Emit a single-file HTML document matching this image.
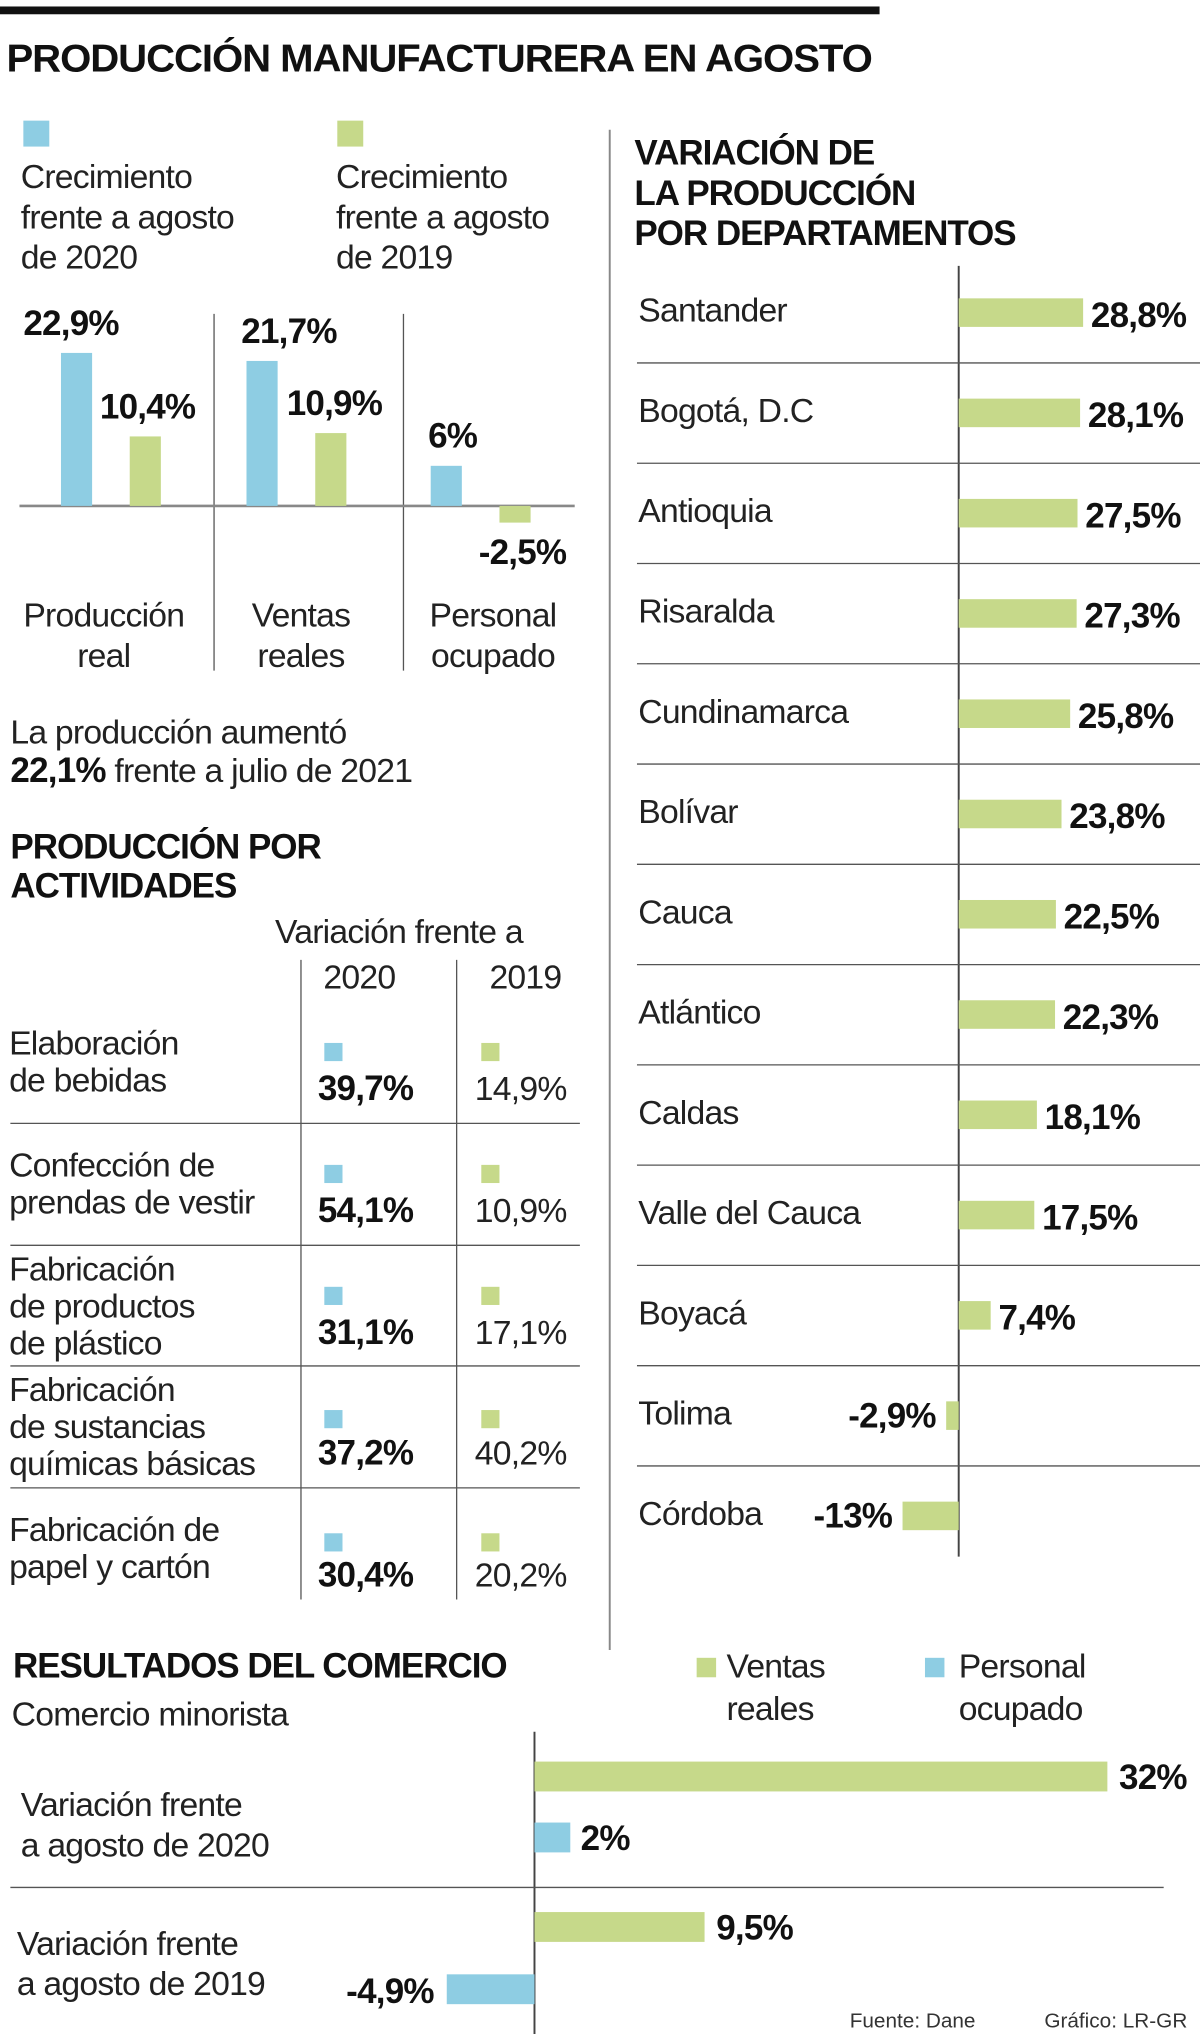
<!DOCTYPE html>
<html><head><meta charset="utf-8"><style>
html,body{margin:0;padding:0;background:#fff;}
svg{display:block;font-family:"Liberation Sans",sans-serif;}
.t{font-size:26px;fill:#222;letter-spacing:-0.6px;}
.b{font-size:27px;font-weight:bold;fill:#111;letter-spacing:-0.6px;}
.h{font-size:27px;font-weight:bold;fill:#111;letter-spacing:-0.8px;}
</style></head><body>
<svg id="s" width="1200" height="2034" viewBox="0 0 925 1568" preserveAspectRatio="none">
<rect x="0" y="5" width="678" height="6" fill="#111"/>
<text x="5" y="55" class="h" style="font-size:30px" textLength="667" lengthAdjust="spacingAndGlyphs">PRODUCCIÓN MANUFACTURERA EN AGOSTO</text>
<rect x="18" y="93" width="20" height="20" fill="#8ecde3"/>
<rect x="260" y="93" width="20" height="20" fill="#c6d98a"/>
<g><text x="16" y="145" class="t">Crecimiento</text><text x="16" y="176" class="t">frente a agosto</text><text x="16" y="207" class="t">de 2020</text></g>
<g><text x="259" y="145" class="t">Crecimiento</text><text x="259" y="176" class="t">frente a agosto</text><text x="259" y="207" class="t">de 2019</text></g>
<g id="c1"></g>
<text x="8" y="573" class="t">La producción aumentó</text>
<text x="8" y="603" class="t"><tspan class="b">22,1%</tspan> frente a julio de 2021</text>
<text x="8" y="662" class="h">PRODUCCIÓN POR</text>
<text x="8" y="692" class="h">ACTIVIDADES</text>
<text x="212" y="727" class="t">Variación frente a</text>
<text x="277" y="762" class="t" text-anchor="middle">2020</text>
<text x="405" y="762" class="t" text-anchor="middle">2019</text>
<g id="tbl"></g>
<line x1="470" y1="100" x2="470" y2="1272" stroke="#888" stroke-width="1.5"/>
<text x="489" y="127" class="h">VARIACIÓN DE</text>
<text x="489" y="158" class="h">LA PRODUCCIÓN</text>
<text x="489" y="189" class="h">POR DEPARTAMENTOS</text>
<g id="c2"></g>
<text x="10" y="1293" class="h">RESULTADOS DEL COMERCIO</text>
<text x="9" y="1330" class="t">Comercio minorista</text>
<rect x="537" y="1278" width="15" height="15" fill="#c6d98a"/>
<text x="560" y="1293" class="t">Ventas</text><text x="560" y="1326" class="t">reales</text>
<rect x="713" y="1278" width="15" height="15" fill="#8ecde3"/>
<text x="739" y="1293" class="t">Personal</text><text x="739" y="1326" class="t">ocupado</text>
<g id="c3"></g>
<text x="655" y="1563" style="font-size:16px;fill:#333">Fuente: Dane</text>
<text x="805" y="1563" style="font-size:16px;fill:#333">Gráfico: LR-GR</text>
</svg>
<script>
const groups=["Producción|real","Ventas|reales","Personal|ocupado"];
const vs2020=[22.9,21.7,6];
const vs2019=[10.4,10.9,-2.5];
const labels2020=["22,9%","21,7%","6%"];
const labels2019=["10,4%","10,9%","-2,5%"];

const activities=["Elaboración|de bebidas","Confección de|prendas de vestir","Fabricación|de productos|de plástico","Fabricación|de sustancias|químicas básicas","Fabricación de|papel y cartón"];
const act2020=["39,7%","54,1%","31,1%","37,2%","30,4%"];
const act2019=["14,9%","10,9%","17,1%","40,2%","20,2%"];

const depts=["Santander","Bogotá, D.C","Antioquia","Risaralda","Cundinamarca","Bolívar","Cauca","Atlántico","Caldas","Valle del Cauca","Boyacá","Tolima","Córdoba"];
const deptVals=[28.8,28.1,27.5,27.3,25.8,23.8,22.5,22.3,18.1,17.5,7.4,-2.9,-13];
const deptLabels=["28,8%","28,1%","27,5%","27,3%","25,8%","23,8%","22,5%","22,3%","18,1%","17,5%","7,4%","-2,9%","-13%"];

const comRows=["Variación frente|a agosto de 2020","Variación frente|a agosto de 2019"];
const comVentas=[32,9.5];
const comPersonal=[2,-4.9];
const comVentasLbl=["32%","9,5%"];
const comPersonalLbl=["2%","-4,9%"];

const NS="http://www.w3.org/2000/svg";
const BLUE="#8ecde3",GREEN="#c6d98a";
function mk(p,tag,a){const e=document.createElementNS(NS,tag);for(const k in a)e.setAttribute(k,a[k]);p.appendChild(e);return e;}
function txt(p,x,y,s,cls,anchor){const e=mk(p,"text",{x:x,y:y,class:cls});if(anchor)e.setAttribute("text-anchor",anchor);e.textContent=s;return e;}

// chart 1
const c1=document.getElementById("c1");
const y1=v=>390-v*5.15;
[165,311].forEach(x=>{const l=mk(c1,"line",{x1:x,y1:242,x2:x,y2:517,stroke:"#555","stroke-width":1});

});
const ax=mk(c1,"line",{x1:15,y1:390,x2:443,y2:390,stroke:"#888","stroke-width":2});


const gx=[47,190,332];
const lblOff=[-29,-4,-2];
const lbl2Off=[-23,-22,-16];
groups.forEach((g,i)=>{
  const bx=gx[i],gxx=gx[i]+53;
  const b=mk(c1,"rect",{x:bx,y:Math.min(y1(vs2020[i]),390),width:24,height:Math.abs(vs2020[i]*5.15),fill:BLUE});
  
  
  const r=mk(c1,"rect",{x:gxx,y:Math.min(y1(vs2019[i]),390),width:24,height:Math.abs(vs2019[i]*5.15),fill:GREEN});
  
  
  const l1=txt(c1,bx+lblOff[i],y1(vs2020[i])-14,labels2020[i],"b");
  
  
  const ly=vs2019[i]>=0?y1(vs2019[i])-14:y1(vs2019[i])+32;
  const l2=txt(c1,gxx+lbl2Off[i],ly,labels2019[i],"b");
  
  
  const cx=[80,232,380][i];const parts=g.split("|");
  parts.forEach((p,j)=>{const t=txt(c1,cx,483+j*31,p,"t","middle");
    
    });
});

// table
const tb=document.getElementById("tbl");
[232,352].forEach(x=>{const l=mk(tb,"line",{x1:x,y1:740,x2:x,y2:1233,stroke:"#555","stroke-width":1});

});
[866,960,1053,1147].forEach(y=>{const l=mk(tb,"line",{x1:8,y1:y,x2:447,y2:y,stroke:"#555","stroke-width":1});

});
const rowTop=[772,866,960,1053,1147];
activities.forEach((a,i)=>{
  const parts=a.split("|");const base=parts.length==3?rowTop[i]+27:rowTop[i]+41;
  parts.forEach((p,j)=>{const t=txt(tb,7,base+j*28.5,p,"t");
    
    });
  const sy=rowTop[i]+(i==0?32:i==4?35:i==3?34:32);
  const s1=mk(tb,"rect",{x:250,y:sy,width:14,height:14,fill:BLUE});
  
  
  const s2=mk(tb,"rect",{x:371,y:sy,width:14,height:14,fill:GREEN});
  
  
  const v1=txt(tb,245,rowTop[i]+76,act2020[i],"b");
  
  
  const v2=txt(tb,366,rowTop[i]+76,act2019[i],"t");
  
  
});

// departments
const c2=document.getElementById("c2");
const X0=739,K=3.33,RH=77.3;
const xd=v=>X0+v*K;
const axl=mk(c2,"line",{x1:X0,y1:205,x2:X0,y2:1200,stroke:"#444","stroke-width":1.5});


depts.forEach((d,i)=>{
  const cy=241+i*RH;
  if(i>0){const l=mk(c2,"line",{x1:491,y1:cy-38.5,x2:925,y2:cy-38.5,stroke:"#555","stroke-width":1});
    
    }
  const n=txt(c2,492,cy+7,d,"t");
  
  
  const v=deptVals[i];
  const r=mk(c2,"rect",{x:Math.min(xd(v),X0),y:cy-11,width:Math.abs(v*K),height:22,fill:GREEN});
  
  
  const t=v>=0?txt(c2,xd(v)+6,cy+11,deptLabels[i],"b"):txt(c2,xd(v)-8,cy+9,deptLabels[i],"b","end");
  
  
});

// commerce
const c3=document.getElementById("c3");
const C0=412,CK=13.8;
const xc=v=>C0+v*CK;
const cax=mk(c3,"line",{x1:C0,y1:1335,x2:C0,y2:1568,stroke:"#444","stroke-width":1.5});


const sep=mk(c3,"line",{x1:8,y1:1455,x2:897,y2:1455,stroke:"#555","stroke-width":1});


comRows.forEach((r,i)=>{
  const top=1358+i*116;
  r.split("|").forEach((p,j)=>{const t=txt(c3,i?13:16,1400+i*107+j*31,p,"t");
    
    });
  const v=comVentas[i];
  const g=mk(c3,"rect",{x:Math.min(xc(v),C0),y:top,width:Math.abs(v*CK),height:23,fill:GREEN});
  
  
  const gl=txt(c3,xc(v)+9,top+21,comVentasLbl[i],"b");
  
  
  const p=comPersonal[i];
  const b=mk(c3,"rect",{x:Math.min(xc(p),C0),y:top+47+i,width:Math.abs(p*CK),height:23,fill:BLUE});
  
  
  const bl=p>=0?txt(c3,xc(p)+8,top+68,comPersonalLbl[i],"b"):txt(c3,xc(p)-10,top+70,comPersonalLbl[i],"b","end");
  
  
});
</script>
</body></html>
